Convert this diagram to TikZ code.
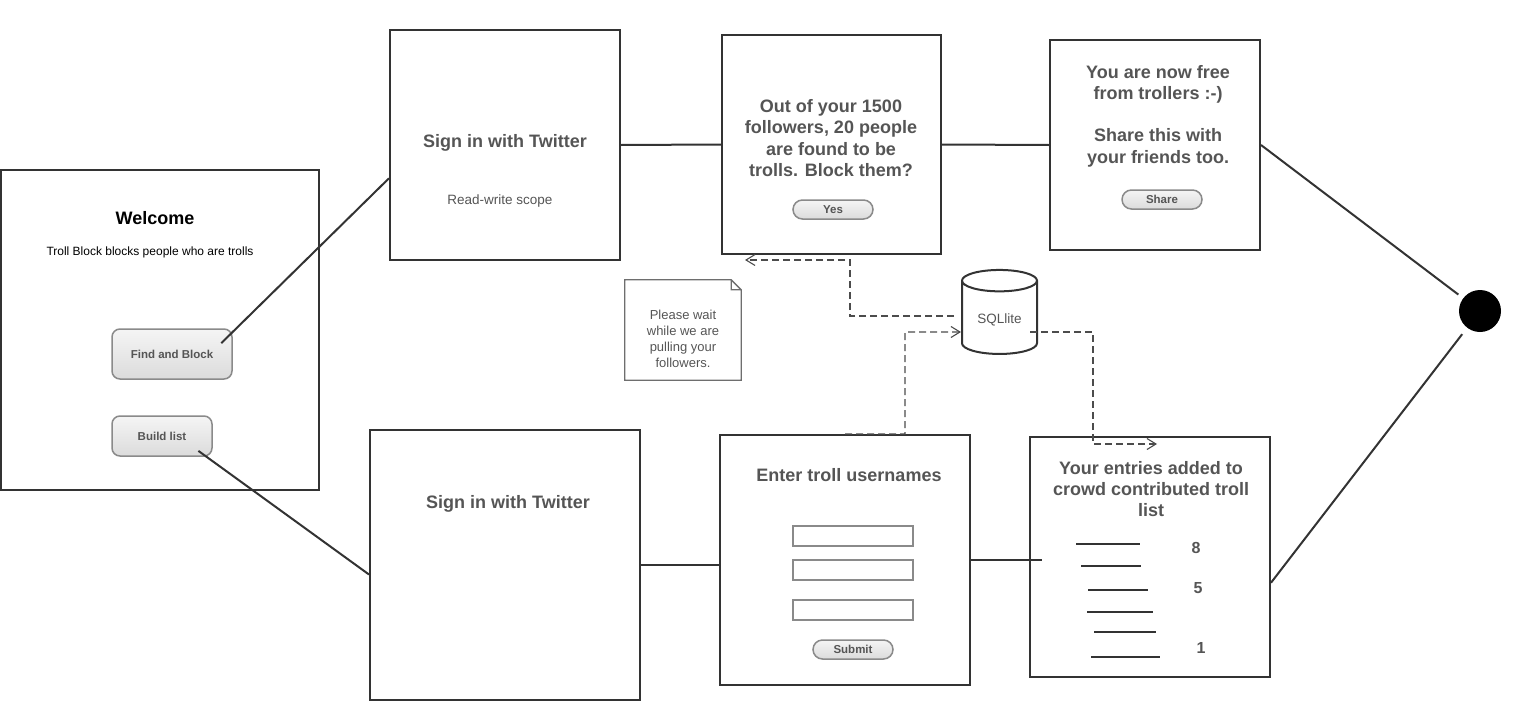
\documentclass[tikz,border=0pt]{standalone}
\usepackage{fontspec}
\setmainfont{Liberation Sans}
\usepackage{tikz}
\usetikzlibrary{positioning}
\usetikzlibrary{arrows.meta}
\usetikzlibrary{shapes.geometric}

\definecolor{ink}{HTML}{333333}
\definecolor{label}{HTML}{555555}
\definecolor{btnline}{HTML}{8A8A8A}

\tikzset{
    screen/.style={draw=ink,line width=2pt,fill=white,inner sep=0pt},
    heading/.style={text=label,align=center,font=\bfseries\fontsize{18}{21.3}\selectfont},
    button/.style={draw=btnline,line width=1.5pt,top color=white!96!black,bottom color=white!86!black,
        text=label,font=\bfseries\fontsize{11.5}{13}\selectfont,inner sep=0pt},
    pill/.style={button,rounded corners=9.5pt,minimum width=80,minimum height=19},
    field/.style={draw=btnline,line width=2pt,fill=white,minimum width=120,minimum height=20,inner sep=0pt},
    flow/.style={draw=ink,line width=2pt},
    data/.style={draw=black!70,line width=1.1pt,dash pattern=on 7pt off 4pt},
}

\begin{document}
\begin{tikzpicture}[x=1pt,y=-1pt]
    \useasboundingbox (0,0) rectangle (1520,720);
    %Screens
    \begin{scope}[every node/.style={screen}]
        \node(welcome)[minimum width=318,minimum height=320] at (160,330) {};
        \node(signtop)[minimum width=230,minimum height=230] at (505,145) {};
        \node(outof)[minimum width=219,minimum height=219] at (831.5,144.5) {};
        \node(share)[minimum width=210,minimum height=210] at (1155,145) {};
        \node(signbot)[minimum width=270,minimum height=270] at (505,565) {};
        \node(enter)[minimum width=250,minimum height=250] at (845,560) {};
        \node(entries)[minimum width=240,minimum height=240] at (1150,557) {};
    \end{scope}
    %Texts
    \node(welcometitle)[font=\bfseries\fontsize{18}{21}\selectfont] at (155,218) {Welcome};
    \node(welcomesub)[font=\fontsize{12}{14}\selectfont] at (150,252) {Troll Block blocks people who are trolls};
    \node(findblock)[button,rounded corners=8pt,minimum width=120,minimum height=50] at (172,354) {Find and Block};
    \node(buildlist)[button,rounded corners=8pt,minimum width=100,minimum height=40] at (162,436) {Build list};
    \node(signtoptext)[heading] at (505,143) {Sign in with Twitter};
    \node(scope)[text=label,font=\fontsize{13.5}{16}\selectfont] at (500,201) {Read-write scope};
    \node(question)[heading] at (831,138) {Out of your 1500\\followers, 20 people\\are found to be\\trolls. Block them?};
    \node(yes)[pill] at (833,209.5) {Yes};
    \node(freetext)[heading] at (1158,116) {You are now free\\from trollers :-)\\[21.3pt]Share this with\\your friends too.};
    \node(sharebtn)[pill] at (1162,199.5) {Share};
    \node(signbottext)[heading] at (508,504) {Sign in with Twitter};
    \node(entertitle)[heading] at (849,475) {Enter troll usernames};
    \node(field1)[field] at (853,536) {};
    \node(field2)[field] at (853,570) {};
    \node(field3)[field] at (853,610) {};
    \node(submit)[pill] at (853,649.5) {Submit};
    \node(entriestitle)[heading] at (1151,489) {Your entries added to\\crowd contributed troll\\list};
    \begin{scope}[every node/.style={text=label,font=\bfseries\fontsize{16}{18}\selectfont}]
        \node(rank8) at (1196,548) {8};
        \node(rank5) at (1198,588) {5};
        \node(rank1) at (1201,648) {1};
    \end{scope}
    \draw[ink,line width=2pt] (1076,544) -- (1140,544) (1081,566) -- (1141,566)
        (1088,590) -- (1148,590) (1087,612) -- (1153,612)
        (1094,632) -- (1156,632) (1091,657) -- (1160,657);
    %Note and database
    \node(note)[minimum width=116,minimum height=100,inner sep=0pt] at (683,330) {};
    \draw[btnline!80!black,line width=1.3pt] (note.north west) -- ([xshift=-10]note.north east)
        -- ([yshift=-10]note.north east) -- (note.south east) -- (note.south west) -- cycle
        ([xshift=-10]note.north east) -- ([xshift=-10,yshift=-10]note.north east) -- ([yshift=-10]note.north east);
    \node(wait)[text=label,align=center,font=\fontsize{13}{16}\selectfont] at (683,339) {Please wait\\while we are\\pulling your\\followers.};
    \node(sqlite)[cylinder,shape border rotate=90,aspect=0.42,draw=ink,line width=2pt,fill=white,
        minimum width=75,minimum height=84,text=label,font=\fontsize{13.5}{16}\selectfont] at (999.5,320) {SQLlite};
    \node(done)[circle,fill=black,minimum size=42] at (1480,311) {};
    %Lines
    \begin{scope}[every path/.style={flow}]
        \draw[shorten >=-16pt] (signtop.196) -- (findblock.20);
        \draw[shorten >=-10pt] (signbot.184) -- (buildlist.-25);
        \draw (signtop.east) -- (outof.west);
        \draw (outof.east) -- (share.west);
        \draw[shorten >=6pt] (share.east) -- (done);
        \draw[shorten >=8pt] (entries.-12) -- (done);
        \draw (signbot.east) -- (signbot.east -| enter.west);
        \draw[line width=2.6pt] (enter.east) -- ([xshift=13]entries.west |- enter.east);
    \end{scope}
    %Data flows
    \coordinate (dbleft) at (850,260);
    \coordinate (yestip) at (745,260);
    \coordinate (dbup) at (905,332);
    \coordinate (dbdown) at (1093,444);
    \coordinate (listtip) at (1157,444);
    \begin{scope}[>={Straight Barb[length=9pt,width=11pt]}]
        \draw[data,->] ([xshift=-7,yshift=4]sqlite.west) -| (dbleft) -- (yestip);
        \draw[data,->] (enter.north) -| (dbup) -- ([yshift=-12]sqlite.west);
        \draw[data,->] ([xshift=-8,yshift=-12]sqlite.east) -| (dbdown) -- (listtip);
    \end{scope}
\end{tikzpicture}
\end{document}
